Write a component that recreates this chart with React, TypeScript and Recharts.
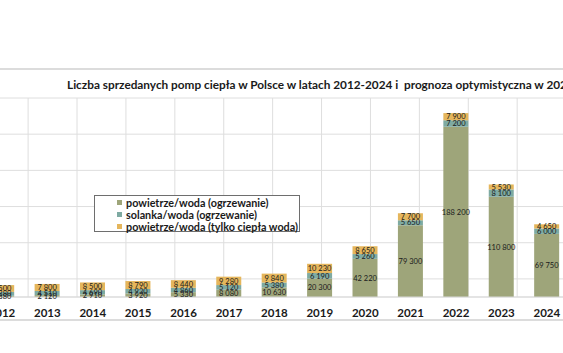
import React from 'react';
import { BarChart, Bar, XAxis, YAxis, CartesianGrid, Legend, LabelList } from 'recharts';

const YEARS = ['2012', '2013', '2014', '2015', '2016', '2017', '2018', '2019', '2020', '2021', '2022', '2023', '2024', '2025'];
const PW_HEATING = [1380, 2120, 2910, 3920, 5330, 8080, 10630, 20300, 42220, 79300, 188200, 110800, 69750, null];
const BRINE_HEATING = [4280, 4510, 4690, 4930, 4860, 5120, 5380, 6190, 5260, 5650, 7200, 8100, 6000, null];
const PW_DHW = [7500, 7800, 8500, 8790, 8440, 9280, 9840, 10230, 8650, 7700, 7900, 5530, 4650, null];
const Y_TICKS = [0, 20000, 40000, 60000, 80000, 100000, 120000, 140000, 160000, 180000, 200000, 220000];

const TITLE = 'Liczba sprzedanych pomp ciepła w Polsce w latach 2012-2024 i  prognoza optymistyczna w 2025';

const SERIES = [
  { key: 'pw', name: 'powietrze/woda (ogrzewanie)', color: '#9ea57a' },
  { key: 'sw', name: 'solanka/woda (ogrzewanie)', color: '#7eaaa2' },
  { key: 'cwu', name: 'powietrze/woda (tylko ciepła woda)', color: '#e5b65c' },
];

const data = YEARS.map((y, i) => ({ year: y, idx: i, pw: PW_HEATING[i], sw: BRINE_HEATING[i], cwu: PW_DHW[i] }));
const GRID_TICKS = YEARS.map((_, i) => i).concat([YEARS.length]);

const fmt = (v: any) => {
  if (v === null || v === undefined || v === '') return '';
  return String(v).replace(/\B(?=(\d{3})+(?!\d))/g, '\u00a0');
};

const FONT = "Lato, 'Open Sans', sans-serif";
const SHIFT = 100; // chart's left edge is off-page

const LegendBox = () => (
  <div
    style={{
      border: '1px solid #6e6e6e',
      background: '#ffffff',
      width: 206,
      height: 37,
      boxSizing: 'border-box',
      padding: '0.5px 0 0 22px',
      fontFamily: FONT,
      fontWeight: 700,
      fontSize: 10.8,
      color: '#1a1a1a',
    }}
  >
    {SERIES.map((s) => (
      <div key={s.key} style={{ display: 'flex', alignItems: 'center', height: 12 }}>
        <span style={{ display: 'inline-block', width: 5, height: 5, background: s.color, marginRight: 4 }} />
        <span style={{ whiteSpace: 'nowrap' }}>{s.name}</span>
      </div>
    ))}
  </div>
);

export default function App() {
  return (
    <div style={{ position: 'fixed', left: 0, top: 0, width: 563, height: 353, overflow: 'hidden', background: '#ffffff' }}>
      <div style={{ position: 'absolute', left: 0, top: 67.5, width: 563, height: 2, background: '#dcdcdc' }} />
      <div style={{ position: 'absolute', left: 0, top: 318.5, width: 563, height: 2, background: '#dcdcdc' }} />
      <div
        style={{
          position: 'absolute',
          left: 67,
          top: 78,
          height: 14,
          lineHeight: '14px',
          whiteSpace: 'pre',
          fontFamily: FONT,
          fontWeight: 700,
          fontSize: 11.8,
          color: '#1a1a1a',
        }}
      >
        {TITLE}
      </div>
      <div style={{ position: 'absolute', left: -SHIFT, top: 0 }}>
        <BarChart
          width={735}
          height={353}
          data={data}
          margin={{ top: 98, right: 20, left: 19.2, bottom: 26 }}
          barCategoryGap="22%"
        >
          <XAxis xAxisId="grid" type="number" domain={[0, YEARS.length]} ticks={GRID_TICKS} hide />
          <CartesianGrid xAxisId="grid" stroke="#dedede" strokeWidth={1} />
          <XAxis
            dataKey="year"
            axisLine={{ stroke: '#d9d9d9' }}
            tickLine={false}
            height={30}
            tickMargin={5.5}
            interval={0}
            tick={{ fill: '#1a1a1a', fontSize: 11.5, fontWeight: 700, fontFamily: FONT }}
          />
          <YAxis
            width={60}
            domain={[0, 220000]}
            ticks={Y_TICKS}
            axisLine={false}
            tickLine={false}
            tickFormatter={fmt}
            tick={{ fill: '#1a1a1a', fontSize: 10, fontFamily: FONT }}
          />
          <Legend
            layout="vertical"
            align="center"
            verticalAlign="middle"
            wrapperStyle={{ left: 94 + SHIFT, top: 195, width: 206, height: 37 }}
            content={() => <LegendBox />}
          />
          {SERIES.map((s) => (
            <Bar key={s.key} dataKey={s.key} name={s.name} stackId="a" fill={s.color} isAnimationActive={false}>
              <LabelList
                dataKey={s.key}
                position="center"
                formatter={fmt}
                style={{ fontSize: 7.5, fill: '#1a1a1a', fontFamily: FONT }}
              />
            </Bar>
          ))}
        </BarChart>
      </div>
    </div>
  );
}
